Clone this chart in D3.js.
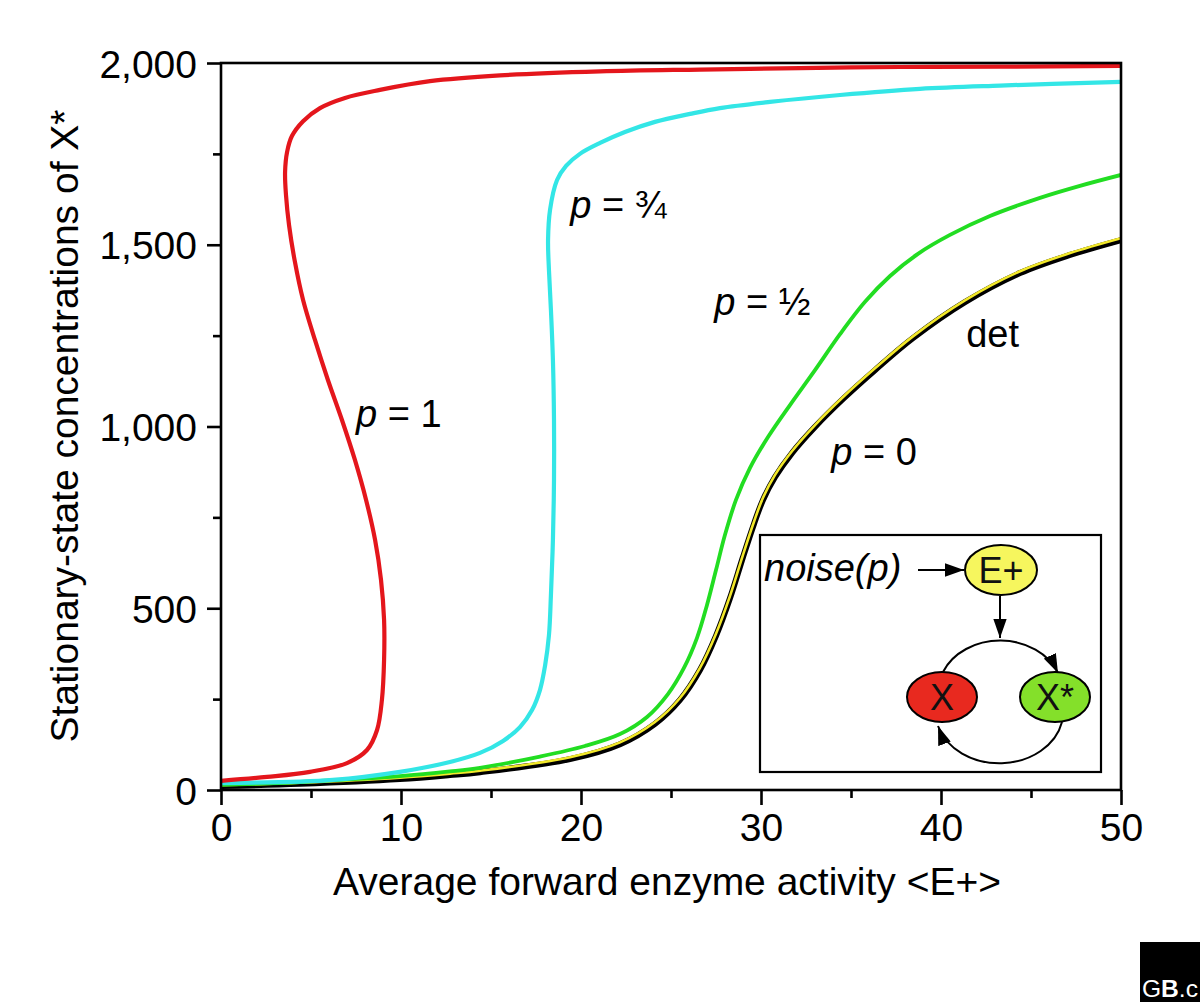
<!DOCTYPE html>
<html><head><meta charset="utf-8">
<script src="https://cdn.jsdelivr.net/npm/d3@7"></script>
<style>
html,body{margin:0;padding:0;background:#fff;}
svg text{font-family:"Liberation Sans",Arial,Helvetica,sans-serif;}
</style></head>
<body><svg id="c" width="1200" height="1002"></svg>
<script>
// ---- data (x = <E+>, y = X*) ----
const xTicks = [0, 10, 20, 30, 40, 50];
const xMinor = [5, 15, 25, 35, 45];
const yTicks = [0, 500, 1000, 1500, 2000];
const yMinor = [250, 750, 1250, 1750];

// p = 1 (multi-valued in E, listed along the curve)
const redE = [0, 2.56, 4.94, 7.0, 8.11, 8.67, 8.94, 9.06, 9.06, 8.89, 8.56, 8.06, 7.44, 6.72, 5.94, 5.22, 4.56, 4.11, 3.78, 3.61, 3.56, 3.67, 3.94, 4.56, 5.5, 6.89, 8.83, 11.61, 15.5, 21.06, 26.61, 32.17, 37.72, 43.28, 50];
const redX = [25, 36, 50, 74, 110, 165, 248, 358, 468, 578, 688, 798, 908, 1018, 1128, 1238, 1348, 1452, 1554, 1637, 1700, 1755, 1799, 1840, 1876, 1904, 1926, 1950, 1966, 1977, 1982, 1986, 1989, 1990, 1992];

// p = 3/4
const cyanE = [0, 6.22, 9.94, 12.72, 14.39, 15.67, 16.61, 17.28, 17.72, 18.0, 18.22, 18.33, 18.44, 18.5, 18.5, 18.44, 18.33, 18.22, 18.17, 18.28, 18.67, 19.17, 19.94, 21.06, 22.44, 24.11, 26.06, 27.72, 30.5, 34.39, 38.83, 43.28, 50];
const cyanX = [19, 28, 50, 77, 102, 135, 173, 220, 275, 341, 426, 537, 688, 853, 1018, 1183, 1320, 1430, 1513, 1596, 1678, 1717, 1750, 1780, 1810, 1838, 1860, 1876, 1893, 1912, 1929, 1938, 1948];

// p = 1/2
const greenE = [0, 4.39, 9.94, 12.72, 14.39, 17.72, 20.22, 22.17, 23.67, 24.83, 25.72, 26.44, 27.0, 27.5, 28.0, 28.61, 29.39, 30.39, 31.61, 33.0, 34.39, 35.78, 37.17, 38.72, 40.5, 42.72, 45.5, 47.72, 50];
const greenX = [14, 22, 38, 51, 61, 92, 121, 154, 201, 264, 336, 418, 509, 605, 702, 798, 886, 971, 1059, 1155, 1254, 1343, 1414, 1475, 1527, 1579, 1629, 1662, 1692];

// deterministic and p = 0
const detE = [0, 4.39, 9.94, 12.72, 14.39, 19.39, 22.17, 24.11, 25.5, 26.61, 27.5, 28.28, 29.0, 29.61, 30.11, 30.78, 31.72, 33.0, 34.56, 36.33, 38.44, 41.33, 44.39, 47.17, 50];
const detX = [11, 17, 30, 41, 49, 85, 126, 182, 248, 330, 424, 528, 641, 732, 798, 861, 927, 999, 1076, 1155, 1243, 1342, 1422, 1472, 1513];
const p0X  = [13, 20, 34, 45, 53, 90, 131, 187, 253, 336, 430, 534, 647, 738, 804, 867, 932, 1004, 1081, 1160, 1248, 1347, 1427, 1477, 1518];

const labels = [
  {p: "p", t: " = 1", x: 7.5, y: 1000},
  {p: "p", t: " = \u00BE", x: 19.4, y: 1573},
  {p: "p", t: " = \u00BD", x: 27.4, y: 1306},
  {p: "",  t: "det", x: 41.4, y: 1220},
  {p: "p", t: " = 0", x: 33.9, y: 893}
];

// ---- scales ----
const svg = d3.select("#c");
const x = d3.scaleLinear().domain([0, 50]).range([221, 1121]);
const y = d3.scaleLinear().domain([0, 2000]).range([790, 63]);
const FS = 39;

const defs = svg.append("defs");
defs.append("clipPath").attr("id","clip")
  .append("rect").attr("x", 221).attr("y", 40).attr("width", 900).attr("height", 760);

const line = d3.line().x(d => x(d[0])).y(d => y(d[1])).curve(d3.curveCatmullRom.alpha(0.5));
const zip = (a, b) => a.map((v, i) => [v, b[i]]);

const g = svg.append("g").attr("clip-path", "url(#clip)");
const draw = (E, X, col, w) => g.append("path").attr("d", line(zip(E, X))).attr("fill","none")
  .attr("stroke", col).attr("stroke-width", w).attr("stroke-linecap","round").attr("stroke-linejoin","round");
draw(detE, detX, "#000", 6);
draw(detE, p0X, "#f2e82a", 2.6);
draw(greenE, greenX, "#22dd22", 3.8);
draw(cyanE, cyanX, "#33e6e6", 4.2);
draw(redE, redX, "#e4161c", 4.2);

// ---- axes ----
const ax = svg.append("g").attr("transform", `translate(0,${y(0)})`)
  .call(d3.axisBottom(x).tickValues(xTicks).tickSize(15).tickPadding(6).tickFormat(d3.format("d")));
const axm = svg.append("g").attr("transform", `translate(0,${y(0)})`)
  .call(d3.axisBottom(x).tickValues(xMinor).tickSize(8).tickFormat(""));
const ay = svg.append("g").attr("transform", `translate(${x(0)},0)`)
  .call(d3.axisLeft(y).tickValues(yTicks).tickSize(14).tickPadding(10).tickFormat(d3.format(",")));
const aym = svg.append("g").attr("transform", `translate(${x(0)},0)`)
  .call(d3.axisLeft(y).tickValues(yMinor).tickSize(8).tickFormat(""));
[ax, axm, ay, aym].forEach(a => {
  a.select(".domain").remove();
  a.selectAll("line").attr("stroke","#000").attr("stroke-width",2.6);
  a.selectAll("text").attr("font-size", FS).attr("fill","#000")
    .attr("font-family", '"Liberation Sans",Arial,sans-serif');
});
ax.selectAll("text").attr("dy", "0.76em");
ay.selectAll("text").attr("dy", "0.36em");

// frame
svg.append("rect").attr("x", x(0)).attr("y", y(2000)).attr("width", x(50)-x(0)).attr("height", y(0)-y(2000))
  .attr("fill","none").attr("stroke","#000").attr("stroke-width",2.6);

// axis titles
svg.append("text").attr("x", 667).attr("y", 895).attr("text-anchor","middle").attr("font-size", FS)
  .text("Average forward enzyme activity <E+>");
svg.append("text").attr("transform","translate(78,426) rotate(-90)").attr("text-anchor","middle").attr("font-size", FS)
  .text("Stationary-state concentrations of X*");

// curve labels
labels.forEach(l => {
  const t = svg.append("text").attr("x", x(l.x)).attr("y", y(l.y)).attr("font-size", 38);
  if (l.p) t.append("tspan").attr("font-style","italic").text(l.p);
  t.append("tspan").text(l.t);
});

// ---- inset diagram ----
const ins = svg.append("g");
defs.append("marker").attr("id","ah").attr("viewBox","0 0 10 7").attr("refX",10).attr("refY",3.5)
  .attr("markerWidth",19).attr("markerHeight",13.3).attr("markerUnits","userSpaceOnUse").attr("orient","auto")
  .append("path").attr("d","M0,0 L10,3.5 L0,7 Z").attr("fill","#000");
ins.append("rect").attr("x",760).attr("y",535).attr("width",341).attr("height",237)
  .attr("fill","#fff").attr("stroke","#000").attr("stroke-width",2.2);
ins.append("text").attr("x",764).attr("y",581).attr("font-size",38).attr("font-style","italic").text("noise(p)");
ins.append("line").attr("x1",918).attr("y1",570).attr("x2",964).attr("y2",570)
  .attr("stroke","#000").attr("stroke-width",2).attr("marker-end","url(#ah)");
ins.append("line").attr("x1",1000).attr("y1",596).attr("x2",1000).attr("y2",638)
  .attr("stroke","#000").attr("stroke-width",2).attr("marker-end","url(#ah)");
ins.append("path").attr("d","M943,672 A62 51 0 0 1 1058,673").attr("fill","none")
  .attr("stroke","#000").attr("stroke-width",2).attr("marker-end","url(#ah)");
ins.append("path").attr("d","M1062,722 A64 52 0 0 1 938,726").attr("fill","none")
  .attr("stroke","#000").attr("stroke-width",2).attr("marker-end","url(#ah)");
const nodes = [
  {cx:1001, cy:570, rx:36, ry:25, fill:"#f6f65e", t:"E+"},
  {cx:942, cy:697, rx:35, ry:25, fill:"#e8291f", t:"X"},
  {cx:1055, cy:697, rx:35, ry:25, fill:"#84e02a", t:"X*"}
];
nodes.forEach(n => {
  ins.append("ellipse").attr("cx",n.cx).attr("cy",n.cy).attr("rx",n.rx).attr("ry",n.ry)
    .attr("fill",n.fill).attr("stroke","#000").attr("stroke-width",2);
  ins.append("text").attr("x",n.cx).attr("y",n.cy+13).attr("text-anchor","middle").attr("font-size",36)
    .attr("fill","#111").text(n.t);
});

// ---- corner logo ----
svg.append("rect").attr("x",1140).attr("y",942).attr("width",60).attr("height",60).attr("fill","#000");
const lg = svg.append("text").attr("x",1142).attr("y",997).attr("font-size",24).attr("fill","#fff")
  .attr("textLength",56).attr("lengthAdjust","spacingAndGlyphs");
lg.append("tspan").text("G");
lg.append("tspan").attr("font-weight","bold").text("B");
lg.append("tspan").text(".c");
</script></body></html>
